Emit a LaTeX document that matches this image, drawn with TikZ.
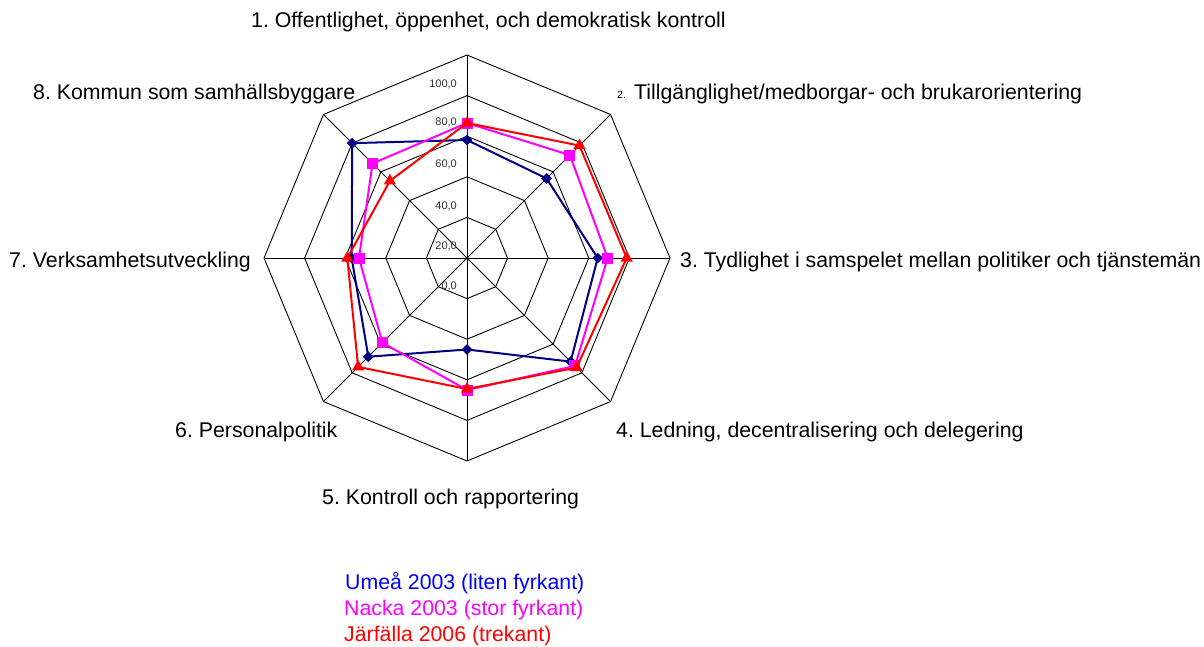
\documentclass[tikz,border=0pt]{standalone}
\usepackage{fontspec}
\setmainfont{Liberation Sans}
\usetikzlibrary{shapes.geometric}
\definecolor{umea}{RGB}{0,0,128}
\definecolor{nacka}{RGB}{255,0,255}
\definecolor{jarf}{RGB}{255,0,0}
\definecolor{umeatxt}{RGB}{0,0,255}
\definecolor{valgray}{RGB}{50,50,50}
\frenchspacing
\begin{document}
\begin{tikzpicture}[x=1pt,y=-1pt,
  gridline/.style={draw=black,line width=0.9pt,line join=miter},
  lab/.style={inner sep=0pt,anchor=base west,font=\fontsize{21.3}{25}\selectfont},
  vallab/.style={inner sep=0pt,anchor=east,text=valgray,font=\fontsize{11}{13}\selectfont},
  serline/.style={line width=2pt,line join=miter},
  umeaM/.style={diamond,fill=umea,inner sep=0pt,minimum size=11pt},
  nackaM/.style={rectangle,fill=nacka,inner sep=0pt,minimum size=11pt},
  jarfM/.style={regular polygon,regular polygon sides=3,fill=jarf,inner sep=0pt,minimum size=14pt}]
\useasboundingbox (0,0) rectangle (1204,646);
\begin{scope}[shift={(467,258)}]
  % rings
  \foreach \k in {1,...,5}{
    \draw[gridline] (-90:\k*40.6) -- (-45:\k*40.6) -- (0:\k*40.6) -- (45:\k*40.6) -- (90:\k*40.6) -- (135:\k*40.6) -- (180:\k*40.6) -- (225:\k*40.6) -- cycle;
  }
  % spokes
  \foreach \a in {-90,-45,0,45,90,135,180,225}
    \draw[gridline] (0,0) -- (\a:203);
  % Umea
  \draw[serline,umea] (-90:118) -- (-45:112.5) -- (0:130.7) -- (45:146.5) -- (90:91.5) -- (135:139.6) -- (180:115.3) -- (225:162.4) -- cycle;
  \foreach \a/\r [count=\i] in {-90/118,-45/112.5,0/130.7,45/146.5,90/91.5,135/139.6,180/115.3,225/162.4}
    \node[umeaM] (u\i) at (\a:\r) {};
  % Nacka
  \draw[serline,nacka] (-90:135) -- (-45:145.5) -- (0:140.7) -- (45:152.7) -- (90:132) -- (135:119.7) -- (180:108) -- (225:133.6) -- cycle;
  \foreach \a/\r [count=\i] in {-90/135,-45/145.5,0/140.7,45/152.7,90/132,135/119.7,180/108,225/133.6}
    \node[nackaM] (n\i) at (\a:\r) {};
  % Jarfalla
  \draw[serline,jarf] (-90:135) -- (-45:159) -- (0:159.7) -- (45:155) -- (90:131) -- (135:154) -- (180:119.7) -- (225:109) -- cycle;
  \foreach \a/\r [count=\i] in {-90/135,-45/159,0/159.7,45/155,90/131,135/154,180/119.7,225/109}
    \node[jarfM] (j\i) at (\a:\r) {};
\end{scope}
% value labels
\node[vallab] (v100) at (457,84) {100,0};
\node[vallab] (v80) at (457,122.7) {80,0};
\node[vallab] (v60) at (457,164.3) {60,0};
\node[vallab] (v40) at (457,206) {40,0};
\node[vallab] (v20) at (457,246.7) {20,0};
\node[vallab] (v0) at (457,286.7) {0,0};
% category labels
\node[lab] (l1) at (251,27) {1. Offentlighet, öppenhet, och demokratisk kontroll};
\node[inner sep=0pt,anchor=base west,font=\fontsize{10.5}{12}\selectfont] (l2n) at (617,98) {2.};
\node[lab] (l2) at (634,99) {Tillgänglighet/medborgar- och brukarorientering};
\node[lab] (l3) at (680,267) {3. Tydlighet i samspelet mellan politiker och tjänstemän};
\node[lab] (l4) at (616,437) {4. Ledning, decentralisering och delegering};
\node[lab] (l5) at (322,504) {5. Kontroll och rapportering};
\node[lab] (l6) at (175,437) {6. Personalpolitik};
\node[lab] (l7) at (9,267) {7. Verksamhetsutveckling};
\node[lab] (l8) at (33,99) {8. Kommun som samhällsbyggare};
% legend
\node[lab,text=umeatxt] (leg1) at (345,589) {Umeå 2003 (liten fyrkant)};
\node[lab,text=nacka] (leg2) at (344,615) {Nacka 2003 (stor fyrkant)};
\node[lab,text=jarf] (leg3) at (344,641) {Järfälla 2006 (trekant)};
\end{tikzpicture}
\end{document}
